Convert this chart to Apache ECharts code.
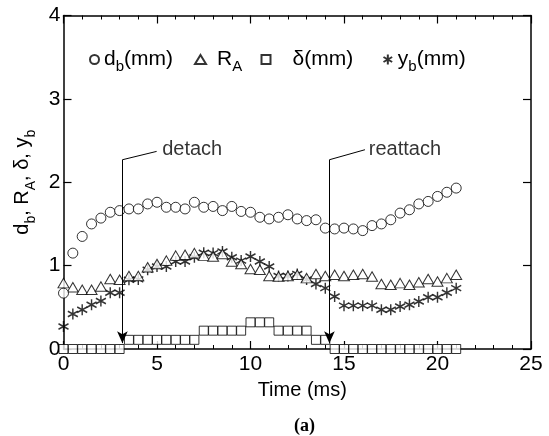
<!DOCTYPE html>
<html>
<head>
<meta charset="utf-8">
<script src="https://cdn.jsdelivr.net/npm/echarts@6/dist/echarts.min.js"></script>
<style>
  html, body { margin: 0; padding: 0; background: #fff; }
  #chart { width: 549px; height: 436px; }
</style>
</head>
<body>
<div id="chart"></div>
<script>
// sample times (ms)
const times = [0, 0.5, 1, 1.5, 2, 2.5, 3, 3.5, 4, 4.5, 5, 5.5, 6, 6.5, 7, 7.5, 8, 8.5, 9, 9.5,
  10, 10.5, 11, 11.5, 12, 12.5, 13, 13.5, 14, 14.5, 15, 15.5, 16, 16.5, 17, 17.5, 18, 18.5,
  19, 19.5, 20, 20.5, 21]
// d_b (mm)
const db = [0.67, 1.15, 1.35, 1.50, 1.57, 1.64, 1.66, 1.68, 1.68, 1.74, 1.76, 1.70, 1.70, 1.68,
  1.76, 1.70, 1.71, 1.66, 1.71, 1.65, 1.64, 1.58, 1.56, 1.58, 1.61, 1.56, 1.54, 1.55, 1.45,
  1.44, 1.45, 1.44, 1.42, 1.48, 1.50, 1.55, 1.63, 1.67, 1.74, 1.77, 1.83, 1.88, 1.93]
// R_A
const ra = [0.79, 0.74, 0.71, 0.71, 0.75, 0.84, 0.83, 0.875, 0.875, 0.98, 1.02, 1.06, 1.12, 1.13,
  1.15, 1.12, 1.11, 1.14, 1.05, 1.02, 0.96, 0.95, 0.875, 0.87, 0.875, 0.89, 0.85, 0.90, 0.875,
  0.89, 0.875, 0.89, 0.90, 0.87, 0.78, 0.77, 0.79, 0.77, 0.80, 0.84, 0.81, 0.85, 0.89]
// delta (mm)
const delta = [0, 0, 0, 0, 0, 0, 0, 0.11, 0.11, 0.11, 0.11, 0.11, 0.11, 0.11, 0.11, 0.22, 0.22,
  0.22, 0.22, 0.22, 0.32, 0.32, 0.32, 0.22, 0.22, 0.22, 0.22, 0.11, 0.11, 0, 0, 0, 0, 0, 0, 0,
  0, 0, 0, 0, 0, 0, 0]
// y_b (mm)
const yb = [0.27, 0.42, 0.47, 0.53, 0.575, 0.675, 0.675, 0.83, 0.835, 0.95, 0.99, 0.99, 1.05,
  1.05, 1.10, 1.155, 1.15, 1.17, 1.10, 1.06, 1.11, 1.05, 0.99, 0.875, 0.875, 0.90, 0.835, 0.78,
  0.73, 0.63, 0.52, 0.52, 0.52, 0.52, 0.47, 0.47, 0.51, 0.53, 0.57, 0.62, 0.62, 0.675, 0.73]

// annotations (data coords): label anchor, leader end, vertical line x, corner y, arrow tip y
const notes = [
  { name: 'detach', at: [5.25, 2.39], end: [4.98, 2.37], x: 3.15, top: 2.27, tip: 0.07 },
  { name: 'reattach', at: [16.3, 2.39], end: [16.12, 2.39], x: 14.22, top: 2.27, tip: 0.07 },
]

const legendText = {
  db: '{t|d}{s|b}{t|(mm)}',
  RA: '{t|R}{s|A}',
  delta: '{t|δ(mm)}',
  yb: '{t|y}{s|b}{t|(mm)}',
}

const font = 'Liberation Sans'
const rich = {
  t: { fontSize: 20, lineHeight: 30, verticalAlign: 'middle', color: '#000', fontFamily: font },
  s: { fontSize: 14, lineHeight: 15, verticalAlign: 'bottom', color: '#000', fontFamily: font },
}
const legendRich = {
  t: { fontSize: 21, lineHeight: 30, verticalAlign: 'middle', color: '#000', fontFamily: font },
  s: { fontSize: 15, lineHeight: 15, verticalAlign: 'bottom', color: '#000', fontFamily: font },
}

const pairs = (ys) => times.map((t, i) => [t, ys[i]])
const hollow = { color: '#fff', borderColor: '#000', borderWidth: 1 }
const starPath = 'path://M0,-10L0,10M-8.66,-5L8.66,5M-8.66,5L8.66,-5'

const chart = echarts.init(document.getElementById('chart'))

function oneLegend(name, left, iw, ih, pad) {
  return {
    data: [name],
    left: left,
    top: 49,
    padding: 0,
    itemWidth: iw,
    itemHeight: ih,
    selectedMode: false,
    formatter: (n) => legendText[n],
    textStyle: { padding: [0, 0, 0, pad], rich: legendRich },
  }
}

function frame(extra) {
  return Object.assign({
    axisLine: { show: true, onZero: false, lineStyle: { color: '#000', width: 1.5 } },
    axisTick: { show: true, inside: true, length: 8, lineStyle: { color: '#000', width: 1.2 } },
    splitLine: { show: false },
  }, extra)
}
const minor = { show: true, splitNumber: 5, length: 4, lineStyle: { color: '#000', width: 1 } }

const option = {
  animation: false,
  backgroundColor: '#fff',
  title: {
    text: '(a)',
    left: 289,
    top: 412,
    textStyle: { fontFamily: 'Liberation Serif', fontWeight: 'bold', fontSize: 18, color: '#000' },
  },
  grid: { left: 63.5, right: 18, top: 15.5, bottom: 87 },
  legend: [
    oneLegend('db', 89, 9, 9, 0),
    oneLegend('RA', 194, 11, 9, 6),
    oneLegend('delta', 260.5, 9, 9, 17),
    oneLegend('yb', 382.5, 10, 10, 0),
  ],
  xAxis: [
    frame({
      type: 'value', min: 0, max: 25, interval: 5, position: 'bottom',
      name: 'Time (ms)', nameLocation: 'middle', nameGap: 31,
      nameTextStyle: { fontSize: 20, color: '#000', fontFamily: font, padding: [0, 0, 0, 10] },
      axisLabel: { fontSize: 21, color: '#000', margin: 5, fontFamily: font },
      minorTick: minor,
    }),
    frame({
      type: 'value', min: 0, max: 25, interval: 5, position: 'top',
      axisLabel: { show: false },
      minorTick: minor,
    }),
  ],
  yAxis: [
    frame({
      type: 'value', min: 0, max: 4, interval: 1, position: 'left',
      name: '{t|d}{s|b}{t|, R}{s|A}{t|, δ, y}{s|b}', nameLocation: 'middle', nameGap: 22,
      nameRotate: 90,
      nameTextStyle: { rich: rich },
      axisLabel: { fontSize: 21, color: '#000', margin: 3, fontFamily: font },
    }),
    frame({
      type: 'value', min: 0, max: 4, interval: 1, position: 'right',
      axisLabel: { show: false },
    }),
  ],
  series: [
    {
      name: 'delta', type: 'scatter', data: pairs(delta),
      symbol: 'rect', symbolSize: 9, itemStyle: hollow,
    },
    {
      name: 'yb', type: 'scatter', data: pairs(yb),
      symbol: starPath, symbolSize: [10, 11],
      itemStyle: { color: '#fff', borderColor: '#000', borderWidth: 1.5 },
    },
    {
      name: 'RA', type: 'scatter', data: pairs(ra),
      symbol: 'triangle', symbolSize: [11, 9.5], itemStyle: hollow,
    },
    {
      name: 'db', type: 'scatter', data: pairs(db),
      symbol: 'circle', symbolSize: 10, itemStyle: hollow,
    },
    {
      name: 'notes', type: 'scatter', silent: true,
      data: notes.map((n) => ({ name: n.name, value: n.at })),
      symbolSize: 1, itemStyle: { color: 'rgba(0,0,0,0)' },
      label: {
        show: true, position: 'right', distance: 0, formatter: '{b}',
        fontSize: 20, color: '#000', fontFamily: font,
      },
      markLine: {
        silent: true,
        symbol: ['none', 'none'],
        label: { show: false },
        lineStyle: { color: '#000', type: 'solid', width: 1 },
        data: notes.flatMap((n) => [
          [{ coord: n.end, symbol: 'none' }, { coord: [n.x, n.top], symbol: 'none' }],
          [{ coord: [n.x, n.top], symbol: 'none' },
           { coord: [n.x, n.tip], symbol: 'arrow', symbolSize: [8, 12] }],
        ]),
      },
    },
  ],
}

chart.setOption(option)
</script>
</body>
</html>
